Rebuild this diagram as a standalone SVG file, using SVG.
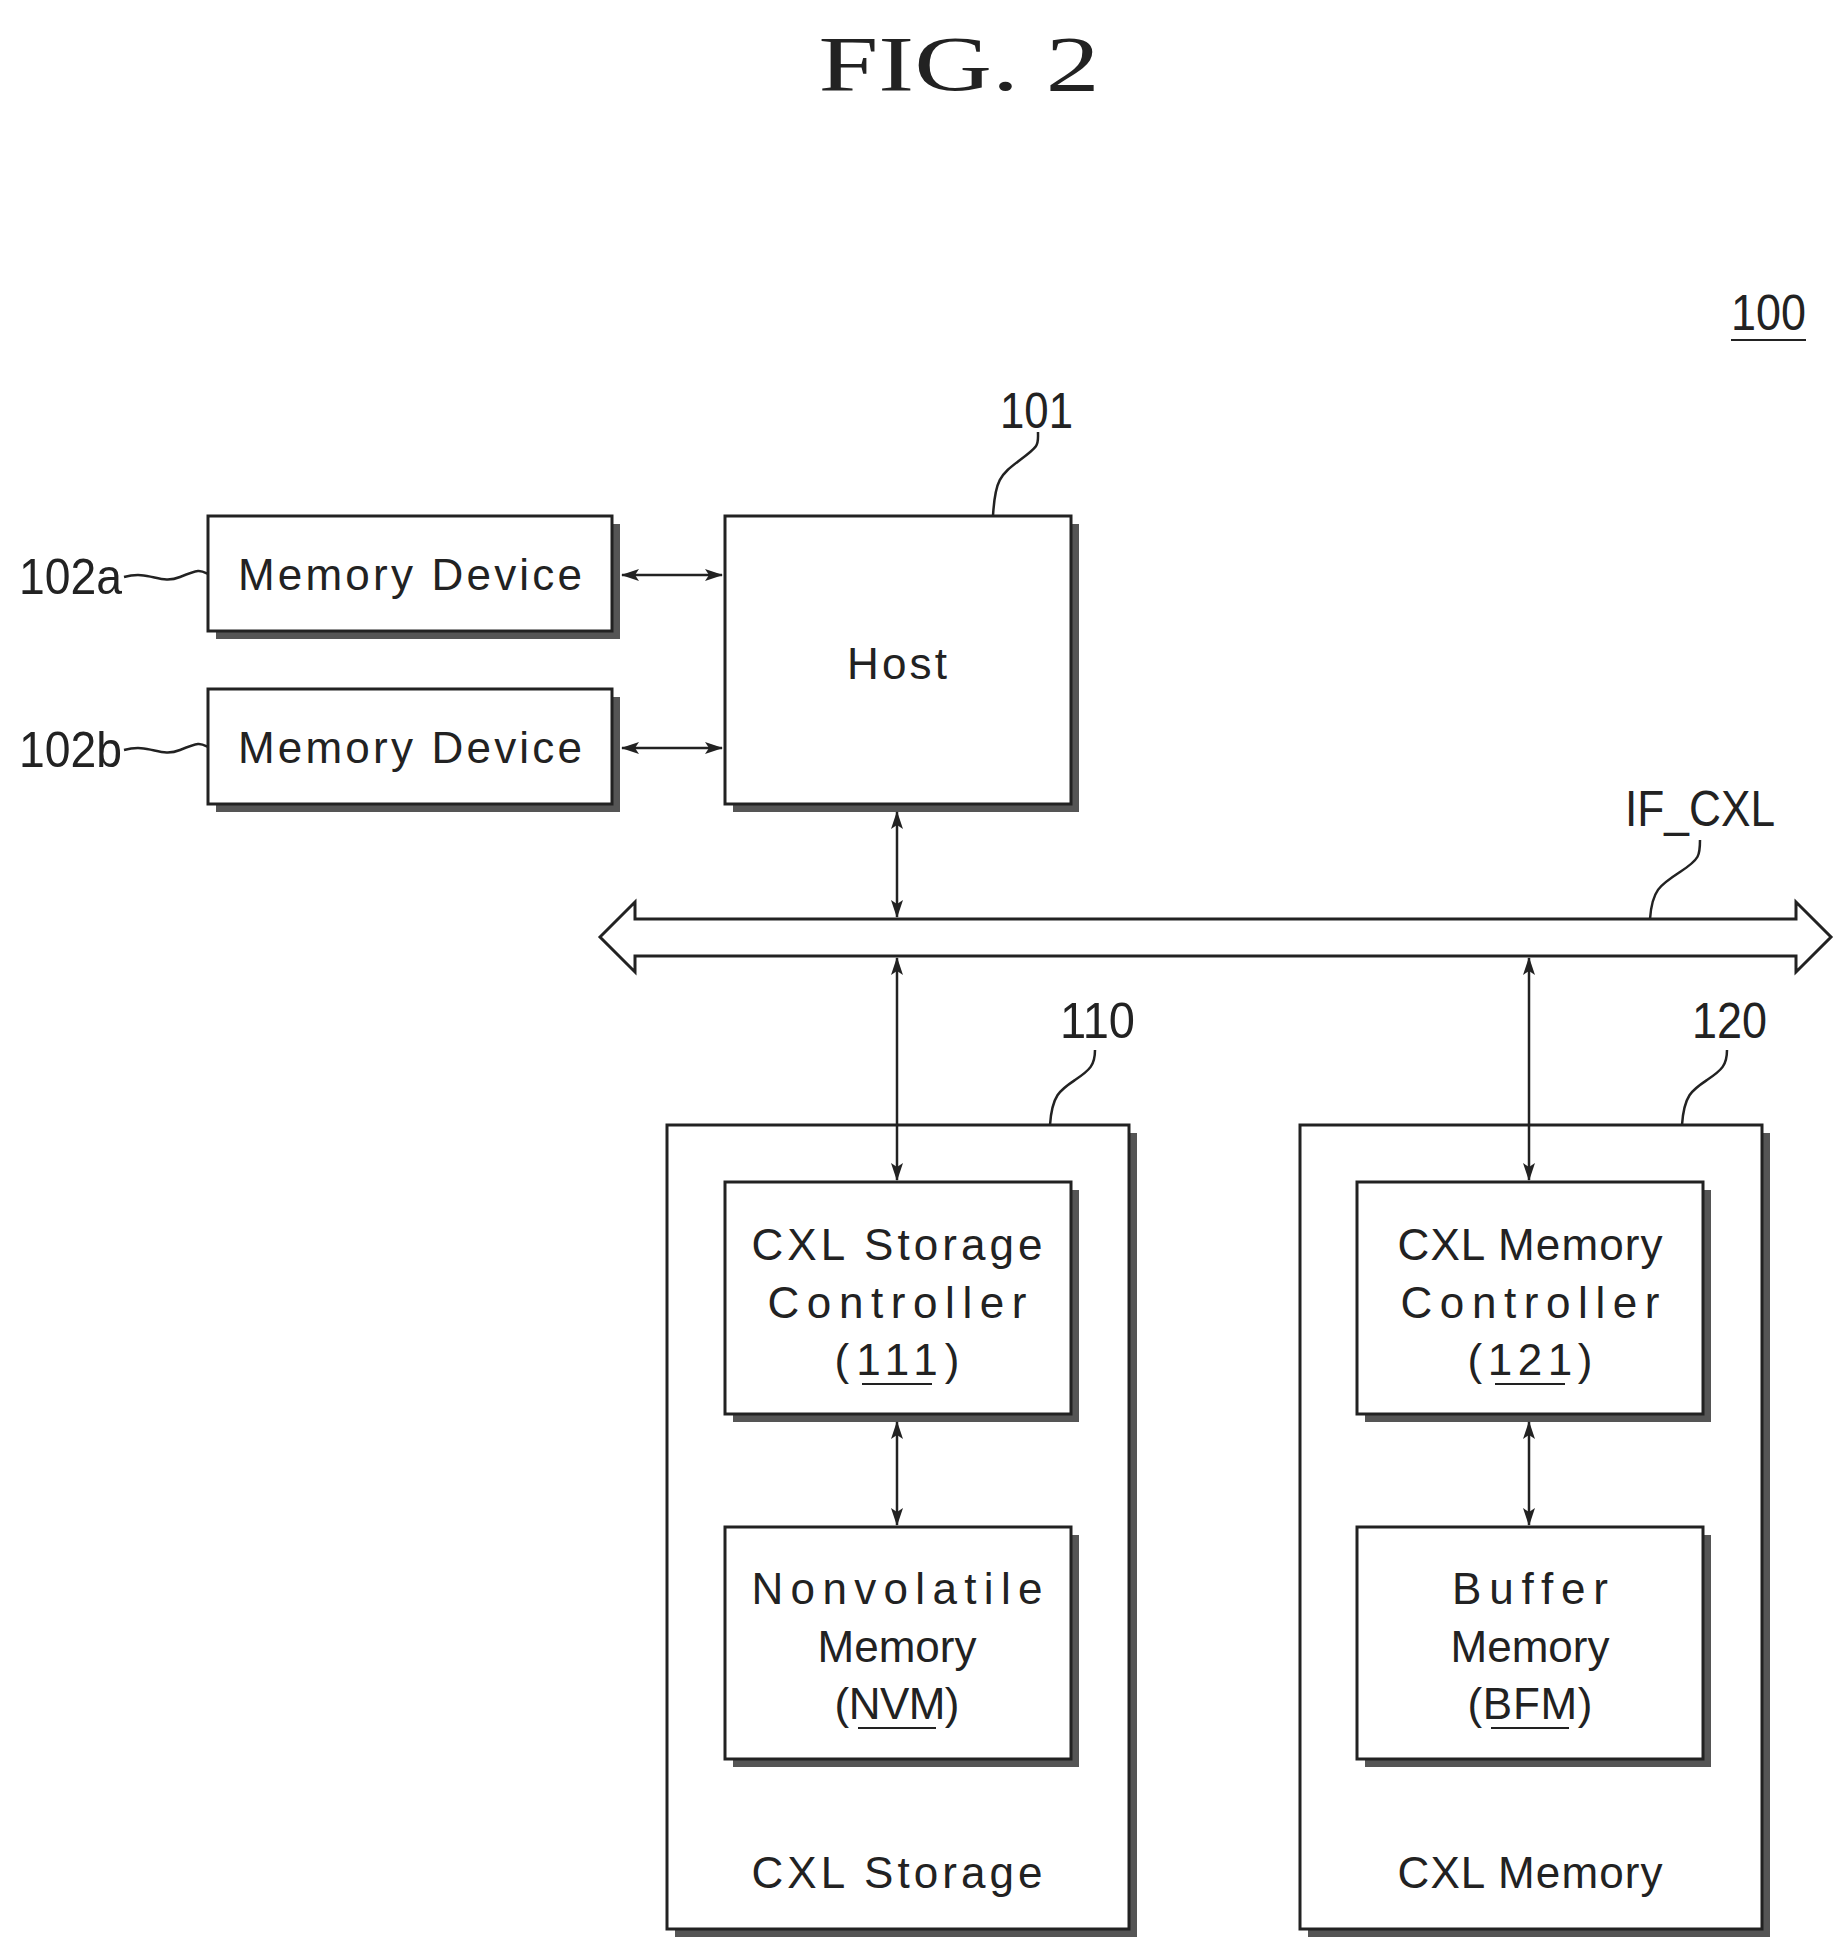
<svg xmlns="http://www.w3.org/2000/svg" width="1846" height="1953" viewBox="0 0 1846 1953">
<style>
.b{fill:#fff;stroke:#222;stroke-width:3}
.s{fill:#555}
.t{font-family:"Liberation Sans",Arial,sans-serif;font-size:44px;fill:#222;text-anchor:middle}
.l{font-family:"Liberation Sans",Arial,sans-serif;font-size:50px;fill:#222}
.c{fill:none;stroke:#222;stroke-width:2.5}
.u{stroke:#222;stroke-width:2}
</style>
<defs>
<marker id="a" viewBox="0 0 18 14" refX="17" refY="7" markerWidth="18" markerHeight="14" markerUnits="userSpaceOnUse" orient="auto-start-reverse"><path d="M0,1 L18,7 L0,13 L4,7 Z" fill="#222"/></marker>
</defs>
<text x="959" y="90" class="t" style="font-size:78px;font-family:'Liberation Serif',serif" textLength="281" lengthAdjust="spacingAndGlyphs">FIG. 2</text>
<g id="n100"><text x="1731" y="330" class="l" textLength="75" lengthAdjust="spacingAndGlyphs">100</text><line x1="1731" y1="340" x2="1806" y2="340" class="u"/></g>
<g id="mem_a">
<rect x="216" y="524" width="404" height="115" class="s"/><rect x="208" y="516" width="404" height="115" class="b"/>
<text x="410" y="590" class="t" textLength="344" lengthAdjust="spacing">Memory Device</text>
<text x="19" y="594" class="l" textLength="103" lengthAdjust="spacingAndGlyphs">102a</text>
<path d="M124,577 C150,570 160,585 180,577 S200,570 208,574" class="c"/>
</g>
<g id="mem_b">
<rect x="216" y="697" width="404" height="115" class="s"/><rect x="208" y="689" width="404" height="115" class="b"/>
<text x="410" y="763" class="t" textLength="344" lengthAdjust="spacing">Memory Device</text>
<text x="19" y="767" class="l" textLength="103" lengthAdjust="spacingAndGlyphs">102b</text>
<path d="M124,750 C150,743 160,758 180,750 S200,743 208,747" class="c"/>
</g>
<g id="host">
<rect x="733" y="524" width="346" height="288" class="s"/><rect x="725" y="516" width="346" height="288" class="b"/>
<text x="897" y="679" class="t" textLength="100" lengthAdjust="spacing">Host</text>
<text x="1000" y="428" class="l" textLength="73" lengthAdjust="spacingAndGlyphs">101</text>
<path d="M993,516 C995,480 1000,475 1020,460 S1038,445 1038,432" class="c"/>
</g>
<g id="bus">
<path d="M600,937 L635,902 L635,919 L1796,919 L1796,902 L1831,937 L1796,972 L1796,956 L635,956 L635,972 Z" fill="#fff" stroke="#222" stroke-width="3"/>
<text x="1625" y="826" class="l" textLength="150" lengthAdjust="spacingAndGlyphs">IF_CXL</text>
<path d="M1650,919 C1652,890 1660,885 1680,872 S1700,855 1700,840" class="c"/>
</g>
<g id="cxl_storage">
<rect x="675" y="1133" width="462" height="804" class="s"/><rect x="667" y="1125" width="462" height="804" class="b"/>
<text x="897" y="1888" class="t" textLength="291" lengthAdjust="spacing">CXL Storage</text>
<text x="1060" y="1038" class="l" textLength="75" lengthAdjust="spacingAndGlyphs">110</text>
<path d="M1050,1125 C1052,1095 1060,1090 1075,1080 S1095,1065 1095,1050" class="c"/>
</g>
<g id="storage_ctrl">
<rect x="733" y="1190" width="346" height="232" class="s"/><rect x="725" y="1182" width="346" height="232" class="b"/>
<text x="897" y="1260" class="t" textLength="291" lengthAdjust="spacing">CXL Storage</text>
<text x="897" y="1318" class="t" textLength="259" lengthAdjust="spacing">Controller</text>
<text x="897" y="1375" class="t" textLength="125" lengthAdjust="spacing">(111)</text>
<line x1="862" y1="1384" x2="932" y2="1384" class="u"/>
</g>
<g id="nvm">
<rect x="733" y="1535" width="346" height="232" class="s"/><rect x="725" y="1527" width="346" height="232" class="b"/>
<text x="897" y="1604" class="t" textLength="291" lengthAdjust="spacing">Nonvolatile</text>
<text x="897" y="1662" class="t" textLength="159" lengthAdjust="spacing">Memory</text>
<text x="897" y="1719" class="t" textLength="125" lengthAdjust="spacing">(NVM)</text>
<line x1="858" y1="1728" x2="936" y2="1728" class="u"/>
</g>
<g id="cxl_memory">
<rect x="1308" y="1133" width="462" height="804" class="s"/><rect x="1300" y="1125" width="462" height="804" class="b"/>
<text x="1530" y="1888" class="t" textLength="265" lengthAdjust="spacing">CXL Memory</text>
<text x="1692" y="1038" class="l" textLength="75" lengthAdjust="spacingAndGlyphs">120</text>
<path d="M1682,1125 C1684,1095 1692,1090 1707,1080 S1727,1065 1727,1050" class="c"/>
</g>
<g id="memory_ctrl">
<rect x="1365" y="1190" width="346" height="232" class="s"/><rect x="1357" y="1182" width="346" height="232" class="b"/>
<text x="1530" y="1260" class="t" textLength="265" lengthAdjust="spacing">CXL Memory</text>
<text x="1530" y="1318" class="t" textLength="259" lengthAdjust="spacing">Controller</text>
<text x="1530" y="1375" class="t" textLength="125" lengthAdjust="spacing">(121)</text>
<line x1="1495" y1="1384" x2="1565" y2="1384" class="u"/>
</g>
<g id="bfm">
<rect x="1365" y="1535" width="346" height="232" class="s"/><rect x="1357" y="1527" width="346" height="232" class="b"/>
<text x="1530" y="1604" class="t" textLength="156" lengthAdjust="spacing">Buffer</text>
<text x="1530" y="1662" class="t" textLength="159" lengthAdjust="spacing">Memory</text>
<text x="1530" y="1719" class="t" textLength="125" lengthAdjust="spacing">(BFM)</text>
<line x1="1491" y1="1728" x2="1569" y2="1728" class="u"/>
</g>
<g id="connectors" stroke="#222" stroke-width="2.5" fill="none">
<line x1="622" y1="575" x2="722" y2="575" marker-start="url(#a)" marker-end="url(#a)"/>
<line x1="622" y1="748" x2="722" y2="748" marker-start="url(#a)" marker-end="url(#a)"/>
<line x1="897" y1="812" x2="897" y2="917" marker-start="url(#a)" marker-end="url(#a)"/>
<line x1="897" y1="958" x2="897" y2="1180" marker-start="url(#a)" marker-end="url(#a)"/>
<line x1="1529" y1="958" x2="1529" y2="1180" marker-start="url(#a)" marker-end="url(#a)"/>
<line x1="897" y1="1422" x2="897" y2="1525" marker-start="url(#a)" marker-end="url(#a)"/>
<line x1="1529" y1="1422" x2="1529" y2="1525" marker-start="url(#a)" marker-end="url(#a)"/>
</g>
</svg>
